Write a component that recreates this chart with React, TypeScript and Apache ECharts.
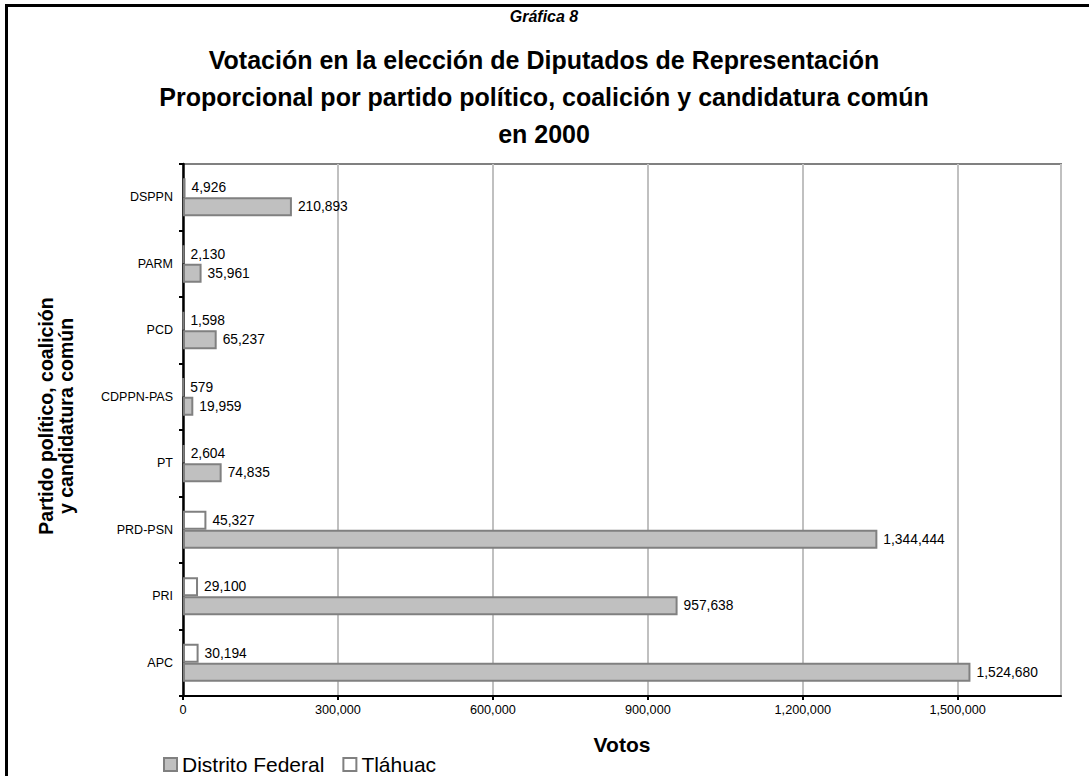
import React, { useEffect, useRef } from "react";
import * as echarts from "echarts";

const categories = ["APC", "PRI", "PRD-PSN", "PT", "CDPPN-PAS", "PCD", "PARM", "DSPPN"];
const distritoFederal = [1524680, 957638, 1344444, 74835, 19959, 65237, 35961, 210893];
const tlahuac = [30194, 29100, 45327, 2604, 579, 1598, 2130, 4926];
const seriesNames = ["Distrito Federal", "Tláhuac"];
const xTicks = { min: 0, max: 1700000, interval: 300000 };

const FONT = "'Liberation Sans', Arial, Helvetica, sans-serif";
const fmt = (v: number) => v.toLocaleString("en-US");

const valueLabel = {
  show: true,
  position: "right",
  distance: 6,
  fontSize: 13.8,
  color: "#000",
  fontFamily: FONT,
  formatter: (p: any) => fmt(p.value),
};

export default function App() {
  const ref = useRef<HTMLDivElement>(null);
  useEffect(() => {
    if (!ref.current) return;
    const chart = echarts.init(ref.current, null, { renderer: "svg" });
    chart.setOption({
      animation: false,
      backgroundColor: "#ffffff",
      textStyle: { fontFamily: FONT },
      grid: {
        left: 183,
        right: 28,
        top: 164,
        bottom: 80,
        show: true,
        borderColor: "#808080",
        borderWidth: 2,
        containLabel: false,
      },
      legend: {
        left: 163,
        top: 754,
        padding: 0,
        itemWidth: 13,
        itemHeight: 13,
        itemGap: 18,
        icon: "rect",
        textStyle: { fontSize: 21, color: "#000", fontFamily: FONT },
        data: seriesNames,
      },
      xAxis: {
        type: "value",
        min: xTicks.min,
        max: xTicks.max,
        interval: xTicks.interval,
        name: "Votos",
        nameLocation: "middle",
        nameGap: 38,
        nameTextStyle: { fontSize: 21, fontWeight: "bold", color: "#000", fontFamily: FONT },
        axisLine: { show: true, lineStyle: { color: "#000", width: 2 } },
        axisTick: { show: true, length: 4, lineStyle: { color: "#000", width: 2 } },
        axisLabel: {
          fontSize: 12.7,
          color: "#000",
          margin: 7,
          fontFamily: FONT,
          showMaxLabel: false,
          formatter: (v: number) => (v > 1500000 ? "" : fmt(v)),
        },
        splitLine: { show: true, lineStyle: { color: "#c0c0c0", width: 2 } },
      },
      yAxis: {
        type: "category",
        data: categories,
        axisLine: { show: true, lineStyle: { color: "#000", width: 2.5 } },
        axisTick: { show: true, length: 4, lineStyle: { color: "#000", width: 2 } },
        axisLabel: { fontSize: 12.5, color: "#000", margin: 10, fontFamily: FONT },
        splitLine: { show: false },
      },
      series: [
        {
          name: seriesNames[1],
          type: "bar",
          data: tlahuac,
          barWidth: 19,
          barGap: "0%",
          itemStyle: { color: "#ffffff", borderColor: "#808080", borderWidth: 2 },
          label: valueLabel,
        },
        {
          name: seriesNames[0],
          type: "bar",
          data: distritoFederal,
          barWidth: 19,
          barGap: "0%",
          itemStyle: { color: "#c0c0c0", borderColor: "#808080", borderWidth: 2 },
          label: valueLabel,
        },
      ],
      graphic: [
        {
          type: "polyline",
          shape: { points: [[6.5, 776], [6.5, 5.5], [1089, 5.5]] },
          style: { stroke: "#000", lineWidth: 3, fill: null },
          silent: true,
        },
        {
          type: "text",
          x: 544,
          y: 16,
          style: {
            text: "Gráfica 8",
            fontSize: 16,
            fontWeight: "bold",
            fontStyle: "italic",
            fontFamily: FONT,
            fill: "#000",
            align: "center",
            verticalAlign: "middle",
          },
        },
        {
          type: "text",
          x: 544,
          y: 97,
          style: {
            text:
              "Votación en la elección de Diputados de Representación\nProporcional por partido político, coalición y candidatura común\nen 2000",
            fontSize: 25,
            lineHeight: 37,
            fontWeight: "bold",
            fontFamily: FONT,
            fill: "#000",
            align: "center",
            verticalAlign: "middle",
          },
        },
        {
          type: "text",
          x: 56,
          y: 416,
          rotation: Math.PI / 2,
          style: {
            text: "Partido político, coalición\ny candidatura común",
            fontSize: 19.5,
            lineHeight: 20,
            fontWeight: "bold",
            fontFamily: FONT,
            fill: "#000",
            align: "center",
            verticalAlign: "middle",
          },
        },
      ],
    });
    return () => chart.dispose();
  }, []);
  return (
    <div
      ref={ref}
      style={{ position: "absolute", left: 0, top: 0, width: 1089, height: 776, background: "#fff" }}
    />
  );
}
